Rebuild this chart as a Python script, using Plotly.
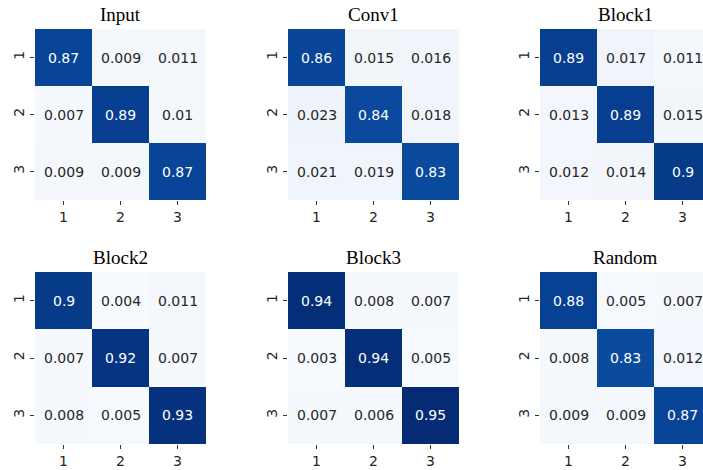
import plotly.graph_objects as go

titles = ["Input", "Conv1", "Block1", "Block2", "Block3", "Random"]
labels = [1, 2, 3]
input_vals = [[0.87, 0.009, 0.011], [0.007, 0.89, 0.01], [0.009, 0.009, 0.87]]
conv1_vals = [[0.86, 0.015, 0.016], [0.023, 0.84, 0.018], [0.021, 0.019, 0.83]]
block1_vals = [[0.89, 0.017, 0.011], [0.013, 0.89, 0.015], [0.012, 0.014, 0.9]]
block2_vals = [[0.9, 0.004, 0.011], [0.007, 0.92, 0.007], [0.008, 0.005, 0.93]]
block3_vals = [[0.94, 0.008, 0.007], [0.003, 0.94, 0.005], [0.007, 0.006, 0.95]]
random_vals = [[0.88, 0.005, 0.007], [0.008, 0.83, 0.012], [0.009, 0.009, 0.87]]
all_vals = [input_vals, conv1_vals, block1_vals, block2_vals, block3_vals, random_vals]

W, H = 712, 470
col_px = [(35, 206), (288, 459), (540, 711)]
row_px = [(29, 200), (272, 444)]
title_y_px = [14, 257]

colorscale = [
    [0.0, "#f7fbff"], [0.01, "#f4f7fc"], [0.025, "#eef3fa"], [0.3, "#9ec5e2"],
    [0.6, "#3a7fc0"], [0.83, "#0a4b9e"], [0.87, "#084498"], [0.9, "#063b8a"],
    [0.93, "#05317e"], [0.95, "#042b73"], [1.0, "#03225f"],
]

fig = go.Figure()
annotations = []
for i, (title, z) in enumerate(zip(titles, all_vals)):
    r, c = divmod(i, 3)
    n = i + 1
    xa = "x" if n == 1 else f"x{n}"
    ya = "y" if n == 1 else f"y{n}"
    x0, x1 = col_px[c]
    y0, y1 = row_px[r]
    fig.add_trace(go.Heatmap(
        z=z, x=labels, y=labels, colorscale=colorscale, zmin=0, zmax=1,
        showscale=False, xaxis=xa, yaxis=ya, hoverinfo="skip",
    ))
    axis_common = dict(
        tickmode="array", tickvals=labels, ticktext=[str(v) for v in labels],
        ticks="outside", ticklen=4, tickwidth=1, tickcolor="#333333",
        showgrid=False, zeroline=False, showline=False,
        tickfont=dict(family="DejaVu Sans", size=14, color="#262626"),
    )
    fig.layout[f"xaxis{'' if n == 1 else n}"] = dict(
        domain=[x0 / W, x1 / W], range=[0.5, 3.5], anchor=ya, **axis_common)
    fig.layout[f"yaxis{'' if n == 1 else n}"] = dict(
        domain=[(H - y1) / H, (H - y0) / H], range=[3.5, 0.5], anchor=xa,
        tickangle=-90, **axis_common)
    for ri in range(3):
        for ci in range(3):
            v = z[ri][ci]
            annotations.append(dict(
                x=labels[ci], y=labels[ri], xref=xa, yref=ya, text=f"{v:g}",
                showarrow=False,
                font=dict(family="DejaVu Sans", size=14,
                          color="#ffffff" if v > 0.5 else "#262626"),
            ))
    annotations.append(dict(
        x=(x0 + x1) / 2 / W, y=(H - title_y_px[r]) / H, xref="paper", yref="paper",
        text=title, showarrow=False, xanchor="center", yanchor="middle",
        font=dict(family="Liberation Serif", size=19, color="#000000"),
    ))

fig.update_layout(
    width=W, height=H, margin=dict(l=0, r=0, t=0, b=0),
    paper_bgcolor="white", plot_bgcolor="white", annotations=annotations,
    showlegend=False,
)
fig.write_html(
    "out.html",
    config={"displayModeBar": False},
    post_script=(
        "document.body.style.margin='0';"
        "document.body.style.overflow='hidden';"
        "document.documentElement.style.overflow='hidden';"
    ),
)
